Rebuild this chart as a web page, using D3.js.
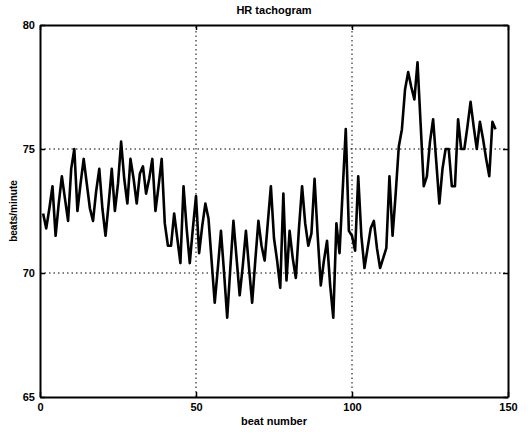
<!DOCTYPE html>
<html>
<head>
<meta charset="utf-8">
<script src="https://cdn.jsdelivr.net/npm/d3@7"></script>
<style>
  html, body { margin: 0; padding: 0; background: #fff; }
  svg { display: block; }
  text { font-family: "Liberation Sans", Arial, Helvetica, sans-serif; font-weight: bold; fill: #000; }
</style>
</head>
<body>
<svg id="chart" width="528" height="433"></svg>
<script>
// Heart rate per beat (beats/minute), beats numbered from 1
const heartRate = [
  72.4, 71.8, 72.6, 73.5, 71.5, 72.8, 73.9, 73.0, 72.1, 74.2,
  75.0, 72.5, 73.6, 74.6, 73.6, 72.6, 72.1, 73.3, 74.2, 72.6,
  71.5, 72.8, 74.2, 72.5, 73.6, 75.3, 73.8, 72.8, 74.6, 73.8,
  72.8, 74.0, 74.3, 73.2, 73.8, 74.6, 72.5, 73.5, 74.6, 72.0,
  71.1, 71.1, 72.4, 71.4, 70.4, 73.5, 71.8, 70.4, 71.8, 73.1,
  70.8, 71.9, 72.8, 72.2, 70.5, 68.8, 70.2, 71.7, 70.0, 68.2,
  70.2, 72.1, 70.6, 69.1, 70.3, 71.7, 70.2, 68.8, 70.5, 72.1,
  71.1, 70.5, 72.0, 73.5, 71.4, 70.5, 69.4, 73.2, 69.7, 71.7,
  70.6, 69.8, 71.8, 73.5, 72.0, 71.1, 71.6, 73.8, 71.5, 69.5,
  70.5, 71.3, 69.5, 68.2, 72.0, 70.8, 73.3, 75.8, 71.7, 71.5,
  70.9, 73.9, 71.5, 70.2, 71.0, 71.8, 72.1, 71.0, 70.2, 70.6,
  71.0, 73.9, 71.5, 73.2, 75.1, 75.8, 77.4, 78.1, 77.5, 77.0,
  78.5, 76.0, 73.5, 73.9, 75.3, 76.2, 74.5, 72.8, 74.2, 75.0,
  75.0, 73.5, 73.5, 76.2, 75.0, 75.0, 75.9, 76.9, 75.9, 75.0,
  76.1, 75.4, 74.6, 73.9, 76.1, 75.8
];
const beatNumbers = heartRate.map((_, i) => i + 1);
const xTicks = [0, 50, 100, 150];
const yTicks = [65, 70, 75, 80];
const xDomain = [0, 150];
const yDomain = [65, 80];

const titleText = "HR tachogram";
const xLabelText = "beat number";
const yLabelText = "beats/minute";

const svg = d3.select("#chart");
const margin = { left: 40, right: 20, top: 25, bottom: 36 };
const W = 528, H = 433;
const plotW = W - margin.left - margin.right;
const plotH = H - margin.top - margin.bottom;

const x = d3.scaleLinear().domain(xDomain).range([margin.left, margin.left + plotW]);
const y = d3.scaleLinear().domain(yDomain).range([margin.top + plotH, margin.top]);

// dotted grid
const grid = svg.append("g").attr("stroke", "#000").attr("stroke-width", 1)
  .attr("stroke-dasharray", "1.5,3");
grid.selectAll("line.vx").data(xTicks.slice(1, -1)).join("line")
  .attr("x1", d => x(d)).attr("x2", d => x(d))
  .attr("y1", y(yDomain[0])).attr("y2", y(yDomain[1]));
grid.selectAll("line.hy").data(yTicks.slice(1, -1)).join("line")
  .attr("x1", x(xDomain[0])).attr("x2", x(xDomain[1]))
  .attr("y1", d => y(d)).attr("y2", d => y(d));

// data trace
const line = d3.line().x((d, i) => x(beatNumbers[i])).y(d => y(d));
svg.append("path").datum(heartRate)
  .attr("fill", "none").attr("stroke", "#000")
  .attr("stroke-width", 2.6).attr("stroke-linejoin", "round")
  .attr("d", line);

// axes with inward ticks
const xAxisB = svg.append("g").attr("transform", `translate(0,${y(yDomain[0])})`)
  .call(d3.axisBottom(x).tickValues(xTicks).tickSizeInner(-5).tickSizeOuter(0).tickPadding(8));
const xAxisT = svg.append("g").attr("transform", `translate(0,${y(yDomain[1])})`)
  .call(d3.axisTop(x).tickValues(xTicks).tickSizeInner(-5).tickSizeOuter(0).tickFormat(""));
const yAxisL = svg.append("g").attr("transform", `translate(${x(xDomain[0])},0)`)
  .call(d3.axisLeft(y).tickValues(yTicks).tickSizeInner(-5).tickSizeOuter(0).tickPadding(5));
const yAxisR = svg.append("g").attr("transform", `translate(${x(xDomain[1])},0)`)
  .call(d3.axisRight(y).tickValues(yTicks).tickSizeInner(-5).tickSizeOuter(0).tickFormat(""));

[xAxisB, xAxisT, yAxisL, yAxisR].forEach(g => {
  g.select(".domain").attr("stroke", "#000").attr("stroke-width", 2);
  g.selectAll(".tick line").attr("stroke", "#000").attr("stroke-width", 1.5);
  g.selectAll(".tick text").attr("font-size", 11).attr("font-weight", "bold")
    .attr("font-family", "'Liberation Sans', Arial, sans-serif").attr("fill", "#000");
});
xAxisB.selectAll(".tick text").attr("dy", "0.55em");
yAxisL.selectAll(".tick text").attr("dy", "0.32em");

// titles
svg.append("text").attr("x", x(75)).attr("y", 14)
  .attr("text-anchor", "middle").attr("font-size", 11).text(titleText);
svg.append("text").attr("x", x(75)).attr("y", 425)
  .attr("text-anchor", "middle").attr("font-size", 11).text(xLabelText);
svg.append("text")
  .attr("transform", `translate(17,${y(72.5)}) rotate(-90)`)
  .attr("text-anchor", "middle").attr("font-size", 10).text(yLabelText);
</script>
</body>
</html>
